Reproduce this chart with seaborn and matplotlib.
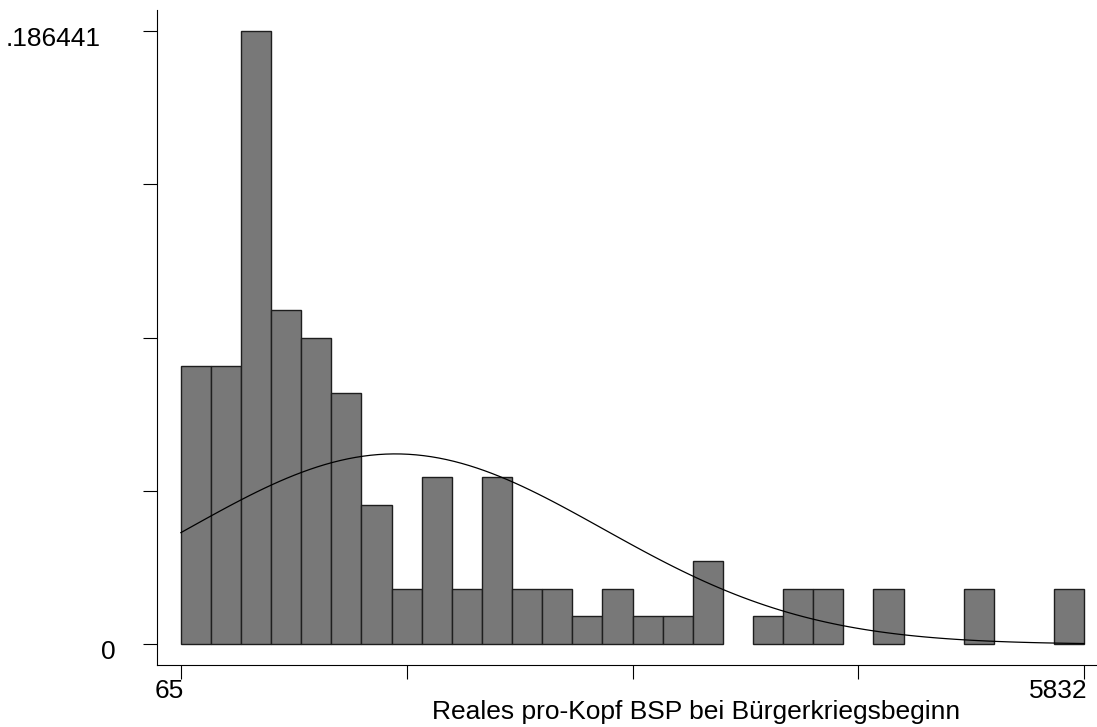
import numpy as np
import pandas as pd
import matplotlib
matplotlib.use("Agg")
import matplotlib.pyplot as plt
import matplotlib.transforms as mtransforms
import seaborn as sns

# ---- data ----
x_min = 65
x_max = 5832
n_bins = 30
# bin counts in units of 1/118 (fraction of observations)
bin_counts = [10, 10, 22, 12, 11, 9, 5, 2, 6, 2, 6, 2,
              2, 1, 2, 1, 1, 3, 0, 1, 2, 2, 0, 2,
              0, 0, 2, 0, 0, 2]
n_total = 118
norm_mean = 1435.0
norm_sd = 1325.0
y_top_label = ".186441"
x_title = "Reales pro-Kopf BSP bei Bürgerkriegsbeginn"

# ---- derived ----
edges = np.linspace(x_min, x_max, n_bins + 1)
centers = (edges[:-1] + edges[1:]) / 2
fractions = np.array(bin_counts) / n_total
bw = edges[1] - edges[0]
y_max = fractions.max()
df = pd.DataFrame({"center": centers, "fraction": fractions})

sns.set_style("ticks")
plt.rcParams["font.family"] = ["Liberation Sans", "DejaVu Sans"]

W, H = 1097, 727
fig = plt.figure(figsize=(W / 100, H / 100), dpi=100)
ax_l, ax_r, ax_t, ax_b = 157.3, 1097, 10, 665
ax = fig.add_axes([ax_l / W, (H - ax_b) / H, (ax_r - ax_l) / W, (ax_b - ax_t) / H])

sns.histplot(data=df, x="center", weights="fraction", bins=list(edges), stat="count",
             color="#787878", edgecolor="#1e1e1e", linewidth=1.0, alpha=1.0, ax=ax)
for p in list(ax.patches):
    if p.get_height() == 0:
        p.remove()

xs = np.linspace(x_min, x_max, 120)
ys = bw * np.exp(-0.5 * ((xs - norm_mean) / norm_sd) ** 2) / (norm_sd * np.sqrt(2 * np.pi))
sns.lineplot(x=xs, y=ys, color="black", linewidth=0.9, ax=ax)

# ---- axes limits matching the pixel layout ----
ux = (x_max - x_min) / (1084.3 - 180.7)
ax.set_xlim(x_min - (180.7 - ax_l) * ux, x_max + (ax_r - 1084.3) * ux)
uy = y_max / (644.3 - 31.0)
ax.set_ylim(-(ax_b - 644.3) * uy, y_max + (31.0 - ax_t) * uy)

xt = np.linspace(x_min, x_max, 5)
ax.set_xticks(xt)
ax.set_xticklabels([str(x_min), "", "", "", str(x_max)])
yt = np.linspace(0, y_max, 5)
ax.set_yticks(yt)
ax.set_yticklabels(["0", "", "", "", y_top_label])

for s in ["top", "right"]:
    ax.spines[s].set_visible(False)
for s in ["left", "bottom"]:
    ax.spines[s].set_color("black")
    ax.spines[s].set_linewidth(0.8)

ax.tick_params(axis="both", direction="out", length=10, width=0.8, color="black",
               labelsize=19, labelcolor="black")
ax.tick_params(axis="x", pad=0)
ax.tick_params(axis="y", pad=31)
for lab in ax.get_xticklabels():
    lab.set_ha("right")
    lab.set_transform(lab.get_transform() + mtransforms.ScaledTranslation(3 / 100, 0, fig.dpi_scale_trans))
ylabs = ax.get_yticklabels()
ylabs[0].set_transform(ylabs[0].get_transform() + mtransforms.ScaledTranslation(15 / 100, -5 / 100, fig.dpi_scale_trans))
ylabs[-1].set_transform(ylabs[-1].get_transform() + mtransforms.ScaledTranslation(0, -5 / 100, fig.dpi_scale_trans))

ax.set_ylabel("")
ax.set_xlabel(x_title, fontsize=19, color="black")
ax.xaxis.set_label_coords((696 - ax_l) / (ax_r - ax_l), (ax_b - 712) / (ax_b - ax_t))
ax.xaxis.label.set_va("center")

fig.savefig("out.png", dpi=100)
